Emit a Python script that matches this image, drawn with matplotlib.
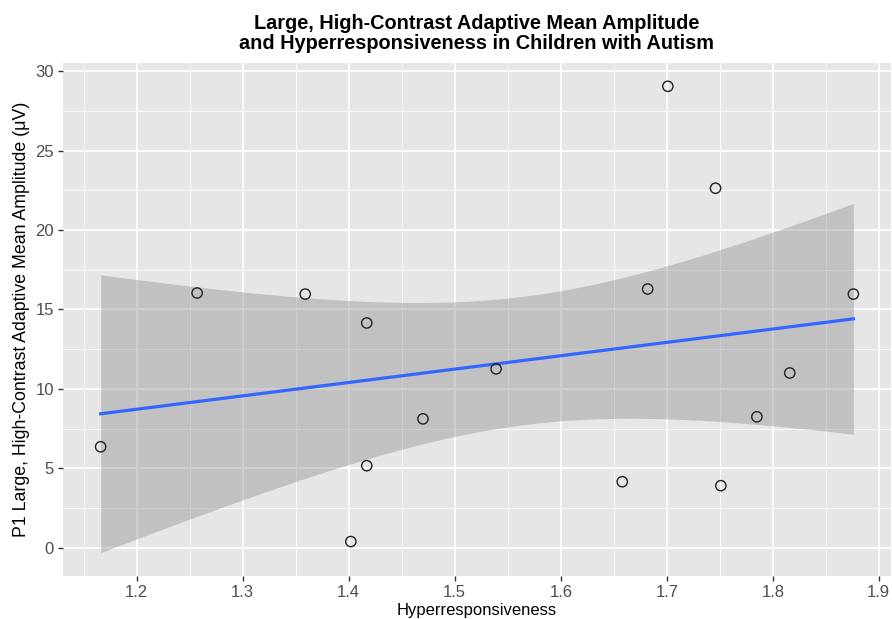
import numpy as np
import matplotlib
matplotlib.use("Agg")
import matplotlib.pyplot as plt

# values
hyper = [1.166, 1.257, 1.359, 1.417, 1.402, 1.417, 1.470, 1.539,
         1.658, 1.682, 1.701, 1.746, 1.751, 1.785, 1.816, 1.876]
amp = [6.35, 16.04, 15.97, 14.15, 0.38, 5.16, 8.11, 11.26,
       4.15, 16.29, 29.06, 22.64, 3.90, 8.24, 11.00, 15.97]
x_ticks = [1.2, 1.3, 1.4, 1.5, 1.6, 1.7, 1.8, 1.9]
y_ticks = [0, 5, 10, 15, 20, 25, 30]

title = ("Large, High-Contrast Adaptive Mean Amplitude\n"
         "and Hyperresponsiveness in Children with Autism")
xlabel = "Hyperresponsiveness"
ylabel = "P1 Large, High-Contrast Adaptive Mean Amplitude (\u03bcV)"

plt.rcParams['font.family'] = ['Liberation Sans', 'DejaVu Sans']

x = np.array(hyper)
y = np.array(amp)

# linear fit with 95% confidence band (like geom_smooth(method="lm"))
n = len(x)
slope, intercept = np.polyfit(x, y, 1)
resid = y - (slope * x + intercept)
s = np.sqrt(np.sum(resid ** 2) / (n - 2))
t_crit = 2.1448  # t(0.975, df=14)
xs = np.linspace(x.min(), x.max(), 80)
ys = slope * xs + intercept
se = s * np.sqrt(1 / n + (xs - x.mean()) ** 2 / np.sum((x - x.mean()) ** 2))
lo = ys - t_crit * se
hi = ys + t_crit * se

fig = plt.figure(figsize=(8.92, 6.19), dpi=100)
ax = fig.add_axes([63 / 892, 1 - 576 / 619, 828 / 892, 513 / 619])
ax.set_facecolor('#E6E6E6')

ax.fill_between(xs, lo, hi, color='#8A8A8A', alpha=0.4, linewidth=0, zorder=2)
ax.plot(xs, ys, color='#3366FF', linewidth=2.3, zorder=3)
ax.scatter(x, y, s=55, facecolors='none', edgecolors='#222222', linewidths=1.0, zorder=4)

xpad = (x.max() - x.min()) * 0.05
ymin = min(y.min(), lo.min())
ymax = max(y.max(), hi.max())
ypad = (ymax - ymin) * 0.05
ax.set_xlim(x.min() - xpad, x.max() + xpad)
ax.set_ylim(ymin - ypad, ymax + ypad)

ax.set_xticks(x_ticks)
ax.set_yticks(y_ticks)
ax.set_xticklabels([f"{v:.1f}" for v in x_ticks])
ax.set_yticklabels([str(v) for v in y_ticks])
ax.set_xticks([v - 0.05 for v in x_ticks], minor=True)
ax.set_yticks([v + 2.5 for v in y_ticks[:-1]], minor=True)

ax.grid(which='major', color='white', linewidth=1.3)
ax.grid(which='minor', color='white', linewidth=0.6)
ax.set_axisbelow(True)
for sp in ax.spines.values():
    sp.set_visible(False)
ax.tick_params(which='major', length=3.5, width=1, color='#333333',
               labelsize=12, labelcolor='#4D4D4D', pad=3)
ax.tick_params(which='minor', length=0)

ax.set_xlabel(xlabel, fontsize=12, labelpad=2)
ax.set_ylabel(ylabel, fontsize=12.8, labelpad=4)
fig.text(0.534, 0.978, title, ha='center', va='top', fontsize=14.3,
         fontweight='bold', linespacing=1.08)

fig.savefig('out.png', dpi=100)
plt.close(fig)
